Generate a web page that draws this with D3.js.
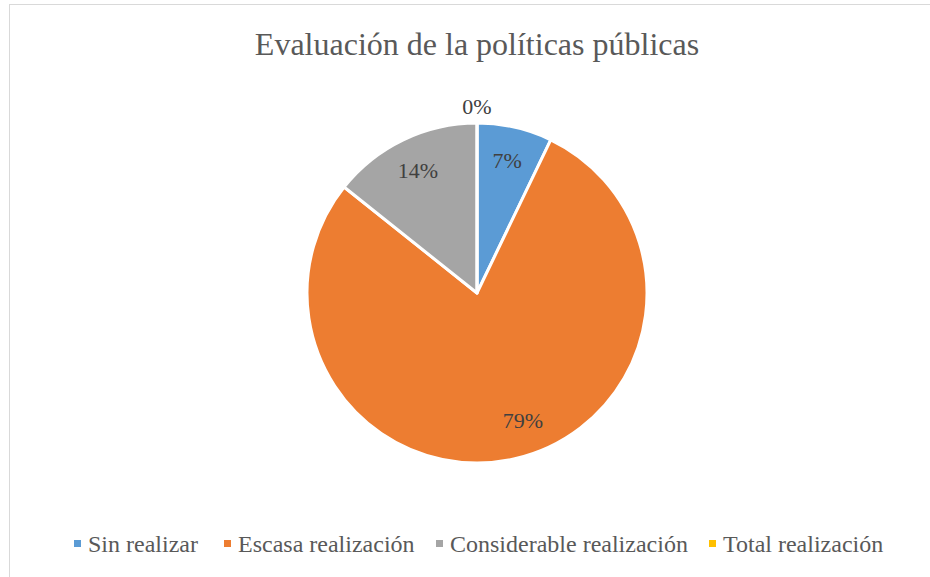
<!DOCTYPE html>
<html>
<head>
<meta charset="utf-8">
<script src="https://cdn.jsdelivr.net/npm/d3@7"></script>
<style>
  body { margin: 0; background: #fff; }
</style>
</head>
<body>
<svg id="chart" width="930" height="577"></svg>
<script>
const categories = ['Sin realizar', 'Escasa realización', 'Considerable realización', 'Total realización']
const values = [1, 11, 2, 0]
const colors = ['#5B9BD5', '#ED7D31', '#A5A5A5', '#FFC000']
const title = 'Evaluación de la políticas públicas'

const fontFamily = "'Times New Roman', 'Liberation Serif', 'DejaVu Serif', serif"
const svg = d3.select('#chart').attr('font-family', fontFamily)
const width = 930
const height = 577

// chart frame
svg.append('rect')
    .attr('x', 9.5).attr('y', 4.5)
    .attr('width', width + 10).attr('height', height + 10)
    .attr('fill', '#fff')
    .attr('stroke', '#d9d9d9')
    .attr('stroke-width', 1)

svg.append('text')
    .attr('x', 477).attr('y', 55)
    .attr('text-anchor', 'middle')
    .attr('font-size', 32)
    .attr('fill', '#595959')
    .text(title)

const cx = 477, cy = 293, radius = 170
const total = d3.sum(values)
const data = categories.map((c, i) => ({name: c, value: values[i], color: colors[i]}))

const pie = d3.pie().value(d => d.value).sort(null)
const arcs = pie(data)
const arc = d3.arc().innerRadius(0).outerRadius(radius)
const labelArc = d3.arc().innerRadius(136).outerRadius(136)
const outerArc = d3.arc().innerRadius(186).outerRadius(186)

const g = svg.append('g').attr('transform', `translate(${cx},${cy})`)

g.selectAll('path')
    .data(arcs)
    .enter()
    .append('path')
    .attr('d', arc)
    .attr('fill', d => d.data.color)
    .attr('stroke', '#fff')
    .attr('stroke-width', 3)
    .attr('stroke-linejoin', 'round')

// best-fit style: big slice label sits a bit off its mid angle, like the original
g.selectAll('text.label')
    .data(arcs)
    .enter()
    .append('text')
    .attr('class', 'label')
    .attr('transform', d => {
        let p
        if (d.value === 0) p = outerArc.centroid(d)
        else if (d.endAngle - d.startAngle > Math.PI) {
            const a = (d.startAngle + d.endAngle) / 2 - 0.12
            p = [Math.sin(a) * 136, -Math.cos(a) * 136]
        } else p = labelArc.centroid(d)
        return `translate(${p[0]},${p[1]})`
    })
    .attr('text-anchor', 'middle')
    .attr('dy', '0.33em')
    .attr('font-size', 22)
    .attr('fill', '#404040')
    .text(d => Math.round(d.value / total * 100) + '%')

// legend
const legendX = [74, 224, 436, 709]
const legend = svg.append('g')
    .selectAll('g')
    .data(data)
    .enter()
    .append('g')
    .attr('transform', (d, i) => `translate(${legendX[i]},540)`)
legend.append('rect')
    .attr('x', 0).attr('y', 0)
    .attr('width', 7).attr('height', 7)
    .attr('fill', d => d.color)
legend.append('text')
    .attr('x', 14).attr('y', 12)
    .attr('font-size', 24)
    .attr('fill', '#595959')
    .text(d => d.name)
</script>
</body>
</html>
